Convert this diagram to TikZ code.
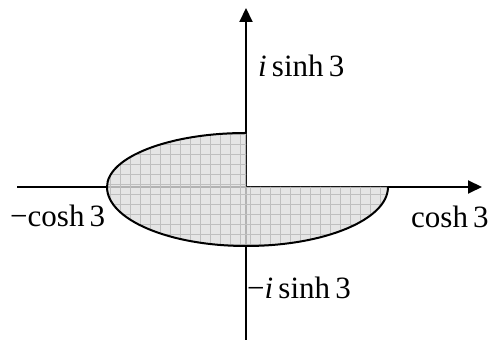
\documentclass[tikz,border=0pt]{standalone}
\usepackage{fontspec}
\setmainfont{Liberation Serif}
\usepackage{tikz}
\usetikzlibrary{positioning}
\usetikzlibrary{calc}
\usetikzlibrary{arrows.meta}

\begin{document}
\begin{tikzpicture}[x=1pt, y=1pt, every node/.style={font=\fontsize{31}{36}\selectfont, inner sep=0pt, anchor=base west},
		axis/.style={line width=2pt, -{Triangle[length=14pt, width=13pt]}},
		rim/.style={line width=2pt}]
			\useasboundingbox (0,0) rectangle (488,344);
			\coordinate (o) at (246,157);
			\coordinate (xl) at (17,157);
			\coordinate (xr) at (482,157);
			\coordinate (yb) at (246,4);
			\coordinate (yt) at (246,336);
			\draw[axis] (xl) -- (xr);
			\draw[axis] (yb) -- (yt);
			\path[fill=gray!25, fill opacity=0.8] (246,211) arc[start angle=90, end angle=180, x radius=139, y radius=54]
				arc[start angle=180, end angle=270, x radius=139, y radius=59]
				arc[start angle=270, end angle=360, x radius=142, y radius=59] -- (o) -- cycle;
			\begin{scope}
				\clip (246,211) arc[start angle=90, end angle=180, x radius=139, y radius=54]
					arc[start angle=180, end angle=270, x radius=139, y radius=59]
					arc[start angle=270, end angle=360, x radius=142, y radius=59] -- (o) -- cycle;
				\draw[gray!50, line width=0.6pt, step=10pt] (100,90) grid (400,220);
			\end{scope}
			\draw[rim] (246,211) arc[start angle=90, end angle=180, x radius=139, y radius=54]
				arc[start angle=180, end angle=270, x radius=139, y radius=59]
				arc[start angle=270, end angle=360, x radius=142, y radius=59];
			\node (isinh) at (258,267) {{\itshape i}\,sinh\,3};
			\node (mcosh) at (10,117) {−cosh\,3};
			\node (cosh) at (411,116) {cosh\,3};
			\node (misinh) at (247,45) {−{\itshape i}\,sinh\,3};
		\end{tikzpicture}
\end{document}
